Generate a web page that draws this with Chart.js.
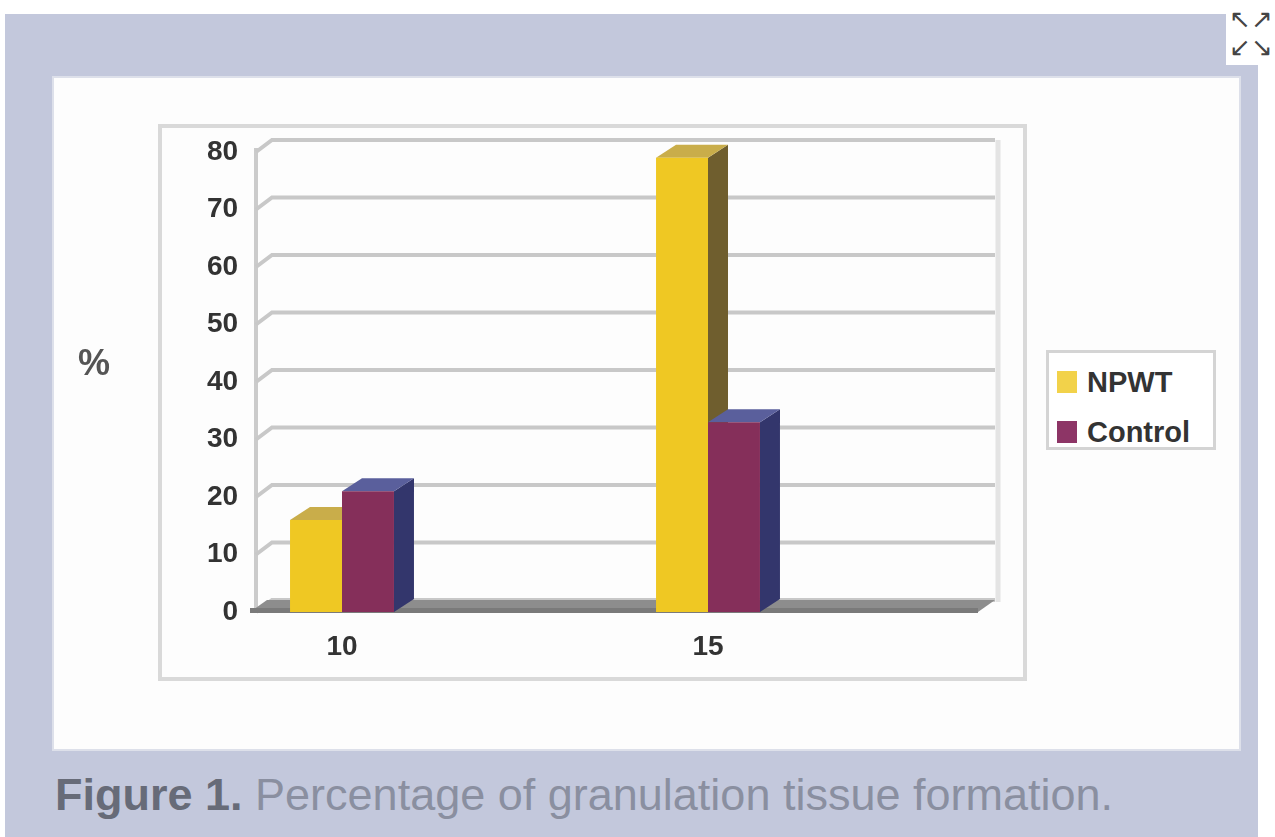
<!DOCTYPE html>
<html>
<head>
<meta charset="utf-8">
<script src="https://cdn.jsdelivr.net/npm/chart.js@4"></script>
<style>
  body { margin: 0; width: 1275px; height: 837px; background: #fff; position: relative; overflow: hidden; font-family: "Liberation Sans", Arial, sans-serif; }
  #frame { position: absolute; left: 5px; top: 14px; width: 1253px; height: 823px; background: #c3c8dc; }
  #panel { position: absolute; left: 52px; top: 76px; width: 1185px; height: 671px; background: #fdfdfd; border: 2px solid #dde0ea; }
  #box { position: absolute; left: 158px; top: 124px; width: 861px; height: 549px; border: 4px solid #d9d9d9; }
  #wrap { position: absolute; left: 55px; top: 78px; width: 1183px; height: 670px; }
  #pct { position: absolute; left: 78px; top: 342px; font-size: 36px; font-weight: bold; color: #555; }
  #legend { position: absolute; left: 1046px; top: 350px; width: 164px; height: 94px; background: #fff; border: 3px solid #d4d4d4; }
  .item { position: absolute; left: 8px; height: 30px; line-height: 30px; font-size: 29px; font-weight: bold; color: #333; white-space: nowrap; }
  .sw { display: inline-block; width: 20px; height: 22px; vertical-align: middle; margin-right: 10px; margin-top: -4px; }
  #caption { position: absolute; left: 55px; top: 770px; font-size: 45px; line-height: 50px; color: #8a8fa0; white-space: nowrap; }
  #caption b { color: #676b78; }
  #icon { position: absolute; left: 1226px; top: 5px; width: 49px; height: 60px; background: #fff; color: #444; font-size: 26px; line-height: 28px; text-align: center; }
</style>
</head>
<body>
<div id="frame"></div>
<div id="panel"></div>
<div id="box"></div>
<div id="wrap"><canvas id="myChart" width="1183" height="670"></canvas></div>
<div id="pct">%</div>
<div id="legend"></div>
<div id="caption"><b>Figure 1.</b> Percentage of granulation tissue formation.</div>
<div id="icon">&#8598;&#8599;<br>&#8601;&#8600;</div>
<script>
// chart data
const categories = ["10", "15"];
const npwtValues = [16, 79];
const controlValues = [21, 33];
const yTicks = [0, 10, 20, 30, 40, 50, 60, 70, 80];
const seriesNames = ["NPWT", "Control"];

const DX = 20, DY = 13;

// fake 3d: back wall, floor, bar tops and sides
const wall3d = {
  id: "wall3d",
  beforeDatasetsDraw(chart) {
    let ctx = chart.ctx;
    let y = chart.scales.y;
    let y0 = y.getPixelForValue(0);
    let yTop = y.getPixelForValue(80);
    let sideL = 201, wallL = 217, wallR = 940;
    ctx.save();
    // right edge of wall
    ctx.strokeStyle = "#e4e4e4";
    ctx.lineWidth = 5;
    ctx.beginPath();
    ctx.moveTo(wallR + 3, yTop - 12);
    ctx.lineTo(wallR + 3, y0 - 10);
    ctx.stroke();
    // side wall edge
    ctx.strokeStyle = "#cbcbcb";
    ctx.lineWidth = 4;
    ctx.beginPath();
    ctx.moveTo(sideL, yTop - 4);
    ctx.lineTo(sideL, y0);
    ctx.stroke();
    // gridlines
    ctx.strokeStyle = "#c8c8c8";
    ctx.lineWidth = 4;
    yTicks.forEach(v => {
      let py = y.getPixelForValue(v);
      ctx.beginPath();
      ctx.moveTo(sideL, py);
      ctx.lineTo(wallL, py - 12);
      ctx.lineTo(wallR, py - 12);
      ctx.stroke();
    });
    // floor
    ctx.fillStyle = "#8d8d8d";
    ctx.beginPath();
    ctx.moveTo(195, y0);
    ctx.lineTo(923, y0);
    ctx.lineTo(940, y0 - 12);
    ctx.lineTo(212, y0 - 12);
    ctx.closePath();
    ctx.fill();
    ctx.fillStyle = "#7a7a7a";
    ctx.fillRect(195, y0 - 4, 728, 5);
    // bar sides and tops
    chart.data.datasets.forEach((ds, i) => {
      chart.getDatasetMeta(i).data.forEach(el => {
        let p = el.getProps(["x", "y", "base", "width"], true);
        let l = p.x - p.width / 2, r = p.x + p.width / 2;
        ctx.fillStyle = ds.sideColor;
        ctx.beginPath();
        ctx.moveTo(r, p.y);
        ctx.lineTo(r + DX, p.y - DY);
        ctx.lineTo(r + DX, p.base - DY);
        ctx.lineTo(r, p.base);
        ctx.closePath();
        ctx.fill();
        ctx.fillStyle = ds.topColor;
        ctx.beginPath();
        ctx.moveTo(l, p.y);
        ctx.lineTo(r, p.y);
        ctx.lineTo(r + DX, p.y - DY);
        ctx.lineTo(l + DX, p.y - DY);
        ctx.closePath();
        ctx.fill();
      });
    });
    ctx.restore();
  }
};

let tickFont = { family: "Liberation Sans", size: 28, weight: "bold" };

let chart = new Chart("myChart", {
  type: "bar",
  data: {
    labels: categories,
    datasets: [
      {
        label: seriesNames[0],
        data: npwtValues,
        backgroundColor: "#efc823",
        topColor: "#c9ad4a",
        sideColor: "#6f5e2e",
        legendColor: "#f2d24a",
      },
      {
        label: seriesNames[1],
        data: controlValues,
        backgroundColor: "#852f5a",
        topColor: "#5a5f9c",
        sideColor: "#33366c",
        legendColor: "#8d3566",
      },
    ],
  },
  options: {
    responsive: false,
    animation: false,
    layout: { padding: { top: 74, right: 347, left: 0, bottom: 0 } },
    datasets: { bar: { barPercentage: 1, categoryPercentage: 0.284 } },
    plugins: { legend: { display: false }, tooltip: { enabled: false } },
    scales: {
      x: {
        grid: { display: false, drawTicks: false },
        border: { display: false },
        ticks: { font: tickFont, color: "#333", padding: 18 },
        afterFit: s => { s.height = 136; },
      },
      y: {
        min: 0,
        max: 80,
        grid: { display: false, drawTicks: false },
        border: { display: false },
        // mirrored so the labels sit right of the scale box (3d offset)
        ticks: { stepSize: 10, font: tickFont, color: "#333", mirror: true, crossAlign: "far", padding: 48 },
        afterFit: s => { s.width = 104; },
      },
    },
  },
  plugins: [wall3d],
});

// legend box
let legendEl = document.getElementById("legend");
chart.data.datasets.forEach((ds, i) => {
  let item = document.createElement("div");
  item.className = "item";
  item.style.top = (14 + i * 50) + "px";
  item.innerHTML = '<span class="sw" style="background:' + ds.legendColor + '"></span>' + ds.label;
  legendEl.appendChild(item);
});
</script>
</body>
</html>
